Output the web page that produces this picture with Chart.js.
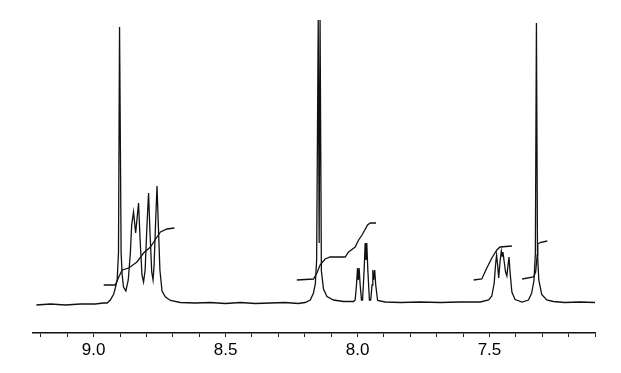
<!DOCTYPE html>
<html>
<head>
<meta charset="utf-8">
<script src="https://cdn.jsdelivr.net/npm/chart.js@4.4.0/dist/chart.umd.min.js"></script>
<style>
  html, body { margin: 0; padding: 0; background: #fff; }
  #wrap { width: 621px; height: 373px; }
</style>
</head>
<body>
<div id="wrap"><canvas id="nmr" width="621" height="373"></canvas></div>
<script>
// chemical shift (ppm) and intensity (a.u.)
const specPpm = [
    9.217, 9.164, 9.107, 9.050, 8.994, 8.963, 8.949, 8.937, 8.924, 8.918,
    8.911, 8.906, 8.902, 8.896, 8.892, 8.887, 8.878, 8.869, 8.861, 8.856,
    8.849, 8.841, 8.830, 8.824, 8.817, 8.811, 8.805, 8.798, 8.792, 8.787,
    8.780, 8.775, 8.771, 8.765, 8.760, 8.755, 8.749, 8.741, 8.728, 8.709,
    8.672, 8.615, 8.558, 8.501, 8.444, 8.388, 8.331, 8.274, 8.225, 8.199,
    8.179, 8.167, 8.160, 8.155, 8.149, 8.1455, 8.142, 8.137, 8.129, 8.116,
    8.091, 8.053, 8.015, 8.009, 8.004, 8.000, 7.997, 7.994, 7.990, 7.985,
    7.981, 7.975, 7.971, 7.968, 7.965, 7.961, 7.955, 7.950, 7.945, 7.942,
    7.939, 7.935, 7.931, 7.924, 7.895, 7.838, 7.763, 7.687, 7.611, 7.535,
    7.503, 7.491, 7.482, 7.477, 7.473, 7.469, 7.465, 7.460, 7.455, 7.452,
    7.449, 7.444, 7.439, 7.434, 7.430, 7.426, 7.422, 7.415, 7.403, 7.376,
    7.352, 7.340, 7.331, 7.326, 7.322, 7.318, 7.313, 7.302, 7.283, 7.258,
    7.214, 7.157, 7.100
];
const specInt = [
    -2, -1, -2, -1, -1, 0, 0, 3, 9, 15,
    23, 50, 276, 50, 28, 16, 12, 23, 50, 78,
    91, 70, 100, 63, 28, 21, 33, 78, 110, 73,
    31, 23, 38, 83, 117, 78, 33, 12, 6, 2.5,
    0.5, 0, 0.5, -0.5, 0.5, -0.5, 0, 0.5, -0.5, 0.5,
    3, 10, 19, 43, 283, 60, 283, 32, 14, 6.5,
    3, 1.5, 1.5, 3, 18, 35, 23, 35, 18, 3,
    3, 33, 60, 43, 60, 33, 3, 3, 18, 33,
    23, 33, 18, 2.5, 1, 0.5, 1, 0.5, 1, 1,
    3, 7, 20, 38, 48, 38, 25, 41, 52, 47,
    51, 41, 31, 27, 37, 46, 31, 11, 3.5, 1,
    3, 10, 23, 50, 280, 50, 23, 8.5, 3, 1.5,
    0.5, 1, 0.5
];

// integral traces
const int1Ppm = [8.962, 8.918, 8.905, 8.892, 8.867, 8.836, 8.811, 8.785, 8.760, 8.747, 8.722, 8.694];
const int1Val = [18, 18, 26, 33, 35, 41, 50, 56, 66, 71, 74, 75];
const int2Ppm = [8.230, 8.167, 8.154, 8.142, 8.123, 8.104, 8.047, 8.034, 8.009, 7.996, 7.983, 7.962, 7.952, 7.930];
const int2Val = [23, 24, 30, 38, 44, 46, 46, 51, 56, 63, 68, 78, 80, 80];
const int3Ppm = [7.560, 7.529, 7.510, 7.491, 7.472, 7.460, 7.415];
const int3Val = [23, 24, 35, 45, 53, 56, 57];
const int4Ppm = [7.376, 7.333, 7.325, 7.319, 7.317, 7.308, 7.281];
const int4Val = [24, 26, 31, 48, 59, 60.5, 62];

const tickLabels = ["9.0", "8.5", "8.0", "7.5"];

const pairs = (xs, ys) => xs.map((x, i) => ({ x: x, y: ys[i] }));

const lineSet = (data, width) => ({
    data: data,
    borderColor: "#111",
    borderWidth: width,
    pointRadius: 0,
    tension: 0,
    fill: false,
});

const ctx = document.getElementById("nmr").getContext("2d");

new Chart(ctx, {
    type: "line",
    data: {
        datasets: [
            lineSet(pairs(specPpm, specInt), 1.3),
            lineSet(pairs(int1Ppm, int1Val), 1.3),
            lineSet(pairs(int2Ppm, int2Val), 1.3),
            lineSet(pairs(int3Ppm, int3Val), 1.3),
            lineSet(pairs(int4Ppm, int4Val), 1.3),
        ],
    },
    options: {
        responsive: false,
        animation: false,
        layout: {
            padding: { left: 33, right: 26, top: 18, bottom: 0 },
        },
        plugins: {
            legend: { display: false },
            tooltip: { enabled: false },
        },
        scales: {
            x: {
                type: "linear",
                reverse: true,
                bounds: "data",
                min: 7.1,
                max: 9.23,
                afterFit: (scale) => {
                    scale.height = 40;
                },
                grid: {
                    drawOnChartArea: false,
                    drawTicks: true,
                    tickLength: 4,
                    color: "#222",
                    lineWidth: 1,
                },
                border: {
                    display: true,
                    color: "#111",
                    width: 1.6,
                },
                ticks: {
                    stepSize: 0.1,
                    includeBounds: false,
                    autoSkip: false,
                    maxRotation: 0,
                    padding: 3,
                    color: "#000",
                    font: {
                        family: "Liberation Sans, Arial, sans-serif",
                        size: 17,
                    },
                    callback: function (value) {
                        const lbl = tickLabels.find(
                            (t) => Math.abs(parseFloat(t) - value) < 1e-6
                        );
                        return lbl === undefined ? "" : lbl;
                    },
                },
            },
            y: {
                display: false,
                min: -30,
                max: 285,
            },
        },
    },
});
</script>
</body>
</html>
